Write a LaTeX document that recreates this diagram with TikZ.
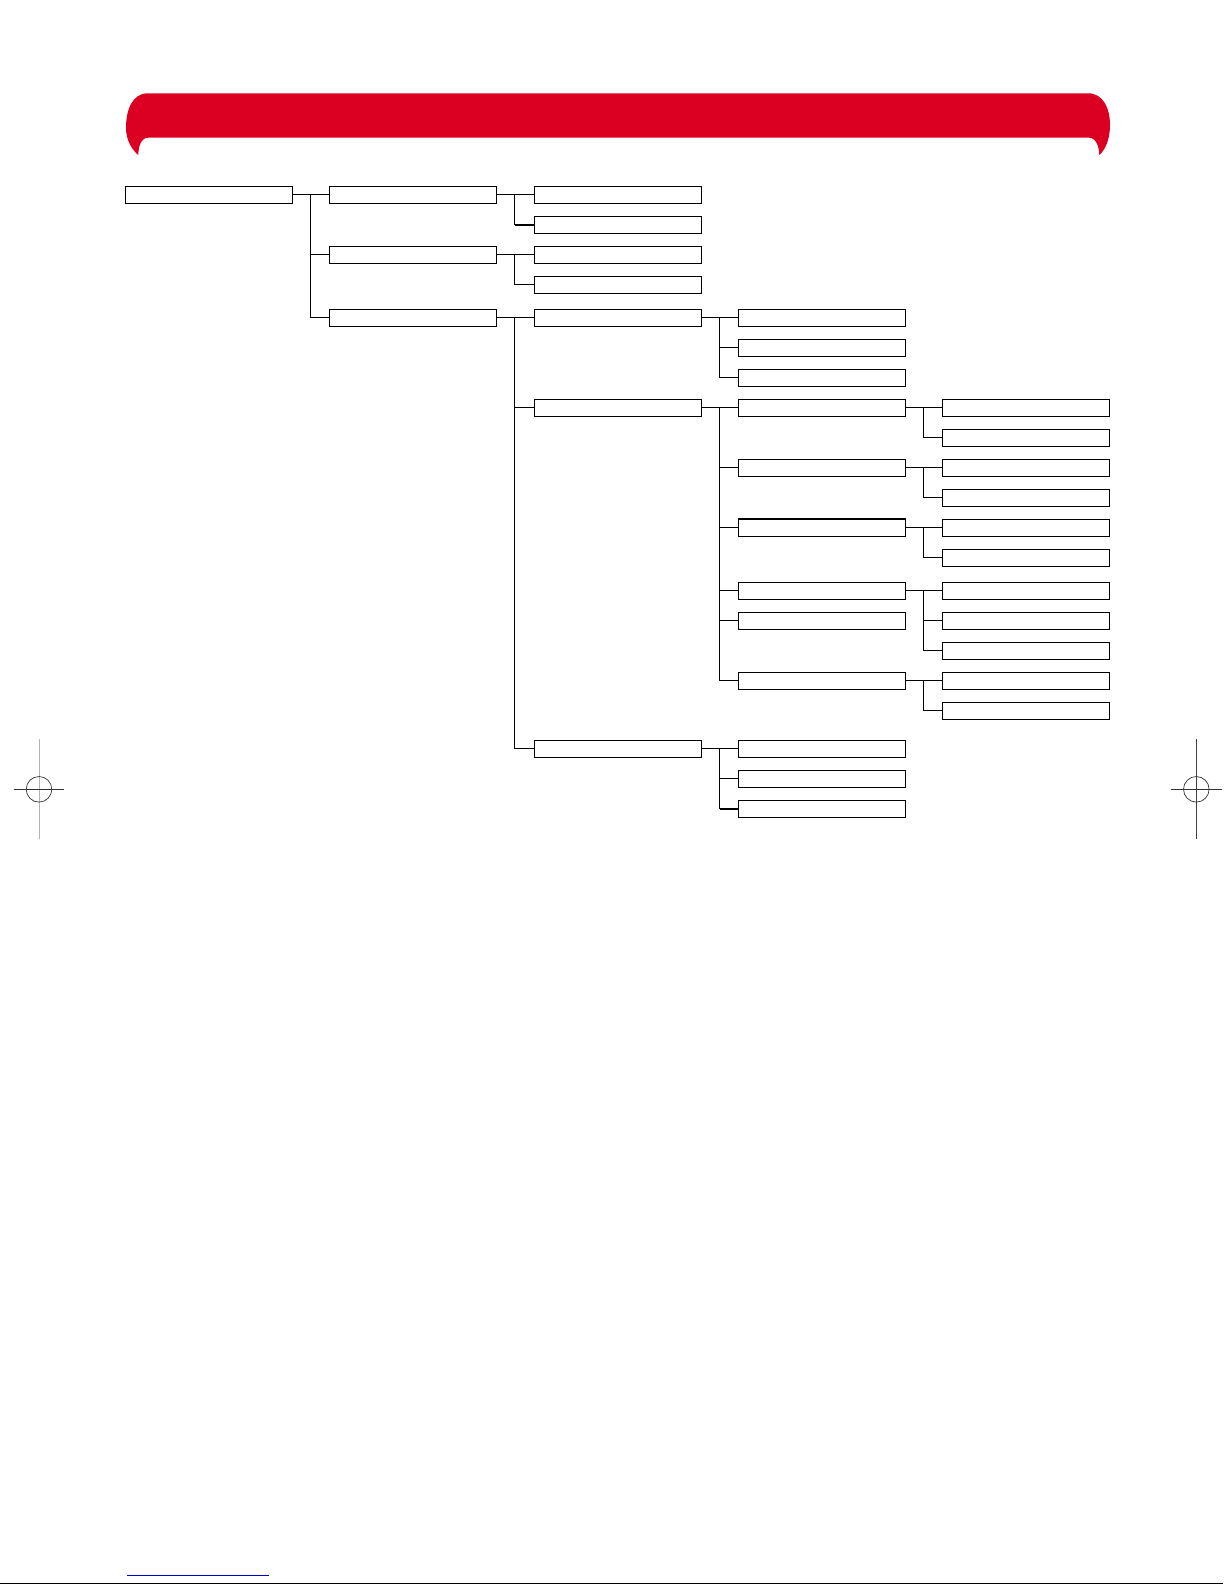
\documentclass[tikz,border=0pt]{standalone}
\definecolor{bannerred}{RGB}{219,0,34}
\definecolor{markblue}{RGB}{0,0,205}
\begin{document}
\begin{tikzpicture}[x=1pt,y=-1pt,
  box/.style={draw, line width=1pt, rectangle, minimum width=167.5pt, minimum height=17pt,
    inner sep=0pt, outer sep=0pt, anchor=north west, fill=white},
  link/.style={line width=1pt},
  thick link/.style={line width=2pt},
  regline/.style={line width=0.7pt},
]
\useasboundingbox (0,0) rectangle (1225,1585);

% red banner
\fill[bannerred] (148,93.3) -- (1088,93.3)
  .. controls (1103,93.3) and (1110,108) .. (1110,125)
  .. controls (1110,140) and (1105,150) .. (1099.3,155)
  .. controls (1099,146) and (1096,138) .. (1089,137.7)
  -- (148,137.7)
  .. controls (141,138) and (138.5,146) .. (138.3,155)
  .. controls (132,150) and (126,140) .. (126,128)
  .. controls (126,110) and (132,93.3) .. (148,93.3) -- cycle;

% columns: 125.3, 329.3, 534.3, 738.3, 942.3
\node[box] (r) at (125.3,186.3) {};
\node[box] (a) at (329.3,186.3) {};
\node[box] (a1) at (534.3,186.3) {};
\node[box] (a2) at (534.3,216.3) {};
\node[box] (b) at (329.3,246.3) {};
\node[box] (b1) at (534.3,246.3) {};
\node[box] (b2) at (534.3,276.3) {};
\node[box] (c) at (329.3,309.3) {};
\node[box] (c1) at (534.3,309.3) {};
\node[box] (c1a) at (738.3,309.3) {};
\node[box] (c1b) at (738.3,339.3) {};
\node[box] (c1c) at (738.3,369.3) {};
\node[box] (c2) at (534.3,399.3) {};
\node[box] (c2a) at (738.3,399.3) {};
\node[box] (c2a1) at (942.3,399.3) {};
\node[box] (c2a2) at (942.3,429.3) {};
\node[box] (c2b) at (738.3,459.3) {};
\node[box] (c2b1) at (942.3,459.3) {};
\node[box] (c2b2) at (942.3,489.3) {};
\node[box] (c2c) at (738.3,519.3) {};
\node[box] (c2c1) at (942.3,519.3) {};
\node[box] (c2c2) at (942.3,549.3) {};
\node[box] (c2d) at (738.3,582.3) {};
\node[box] (c2d1) at (942.3,582.3) {};
\node[box] (c2d2) at (942.3,612.3) {};
\node[box] (c2d3) at (942.3,642.3) {};
\node[box] (c2e) at (738.3,612.3) {};
\node[box] (c2f) at (738.3,672.3) {};
\node[box] (c2f1) at (942.3,672.3) {};
\node[box] (c2f2) at (942.3,702.3) {};
\node[box] (c3) at (534.3,740.3) {};
\node[box] (c3a) at (738.3,740.3) {};
\node[box] (c3b) at (738.3,770.3) {};
\node[box] (c3c) at (738.3,800.3) {};

% thicker right edges of the last column, thicker top of one box
\foreach \n in {c2a1,c2a2,c2b1,c2b2,c2c1,c2c2,c2d1,c2d2,c2d3,c2f1,c2f2}
  \draw[line width=1.8pt] ([xshift=-0.4pt]\n.north east) -- ([xshift=-0.4pt]\n.south east);
\draw[line width=1.8pt] ([yshift=0.4pt]c2c.north west) -- ([yshift=0.4pt]c2c.north east);

% connectors
\foreach \p/\c in {r/a, r/b, r/c, a/a1, b/b1, b/b2, c/c1, c/c2, c/c3,
  c1/c1a, c1/c1b, c1/c1c, c2/c2a, c2/c2b, c2/c2c, c2/c2d, c2/c2e, c2/c2f,
  c2a/c2a1, c2a/c2a2, c2b/c2b1, c2b/c2b2, c2c/c2c1, c2c/c2c2,
  c2d/c2d1, c2d/c2d2, c2d/c2d3, c2f/c2f1, c2f/c2f2, c3/c3a, c3/c3b}
  \draw[link] (\p.east) -- ++(18,0) |- (\c.west);
\draw[link] (a.east) -- ++(18,0) |- (a2.west);
\draw[thick link] ([xshift=18pt]a.east |- a2.west) -- (a2.west);
\draw[link] (c3.east) -- ++(18,0) |- (c3c.west);
\draw[thick link] ([xshift=18pt]c3.east |- c3c.west) -- (c3c.west);

% registration marks
\coordinate (lm) at (39,789.3);
\coordinate (rm) at (1196.3,789.3);
\draw[regline, gray!60] ([yshift=-50pt]lm) -- ([yshift=50pt]lm);
\draw[regline, black!80] ([xshift=-25.5pt]lm) -- ([xshift=25pt]lm);
\draw[regline, black!80] (lm) circle (12.8);
\draw[regline, black!75] ([yshift=-50pt]rm) -- ([yshift=50pt]rm);
\draw[regline, black!80] ([xshift=-25.5pt]rm) -- ([xshift=25.5pt]rm);
\draw[regline, black!80] (rm) circle (12.8);

% bottom rules
\coordinate (bl0) at (127,1575);
\coordinate (bl1) at (268.7,1575);
\draw[markblue, line width=1pt] (bl0) -- (bl1);
\coordinate (k0) at (0,1583.7);
\coordinate (k1) at (1223,1583.7);
\draw[black, line width=1.2pt] (k0) -- (k1);
\end{tikzpicture}
\end{document}
